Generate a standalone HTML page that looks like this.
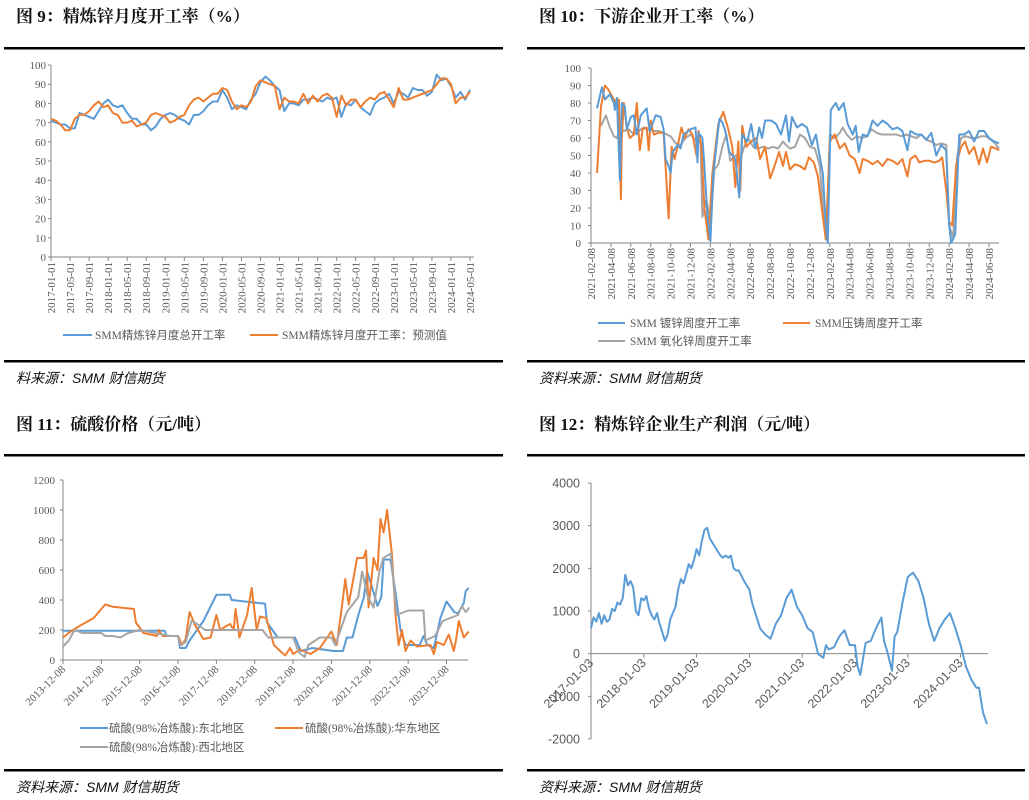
<!DOCTYPE html>
<html><head><meta charset="utf-8"><style>
body{margin:0;background:#fff;}
svg{display:block;font-family:"Liberation Serif","Noto Serif CJK SC",serif;}
.t{font-weight:bold;font-size:17px;fill:#111;}
.src{font-style:italic;font-size:14px;fill:#111;font-family:"Liberation Sans","Noto Sans CJK SC",sans-serif;}
.tk{font-size:11px;fill:#595959;}
.tk4{font-size:12.5px;fill:#595959;font-family:"Liberation Sans",sans-serif;}
.lg{font-size:11.5px;fill:#595959;font-family:"Liberation Serif","Noto Sans CJK SC",serif;}
</style></head><body>
<svg id="s" width="1029" height="800" viewBox="0 0 1029 800">
<g>
<text class="t" x="16" y="22">图 9：精炼锌月度开工率（%）</text>
<text class="t" x="539" y="22">图 10：下游企业开工率（%）</text>
<text class="t" x="16" y="430">图 11：硫酸价格（元/吨）</text>
<text class="t" x="539" y="430">图 12：精炼锌企业生产利润（元/吨）</text>
<rect x="4" y="47" width="499" height="2.5" fill="#000"/>
<rect x="527" y="47" width="498" height="2.5" fill="#000"/>
<rect x="4" y="360" width="499" height="2.5" fill="#000"/>
<rect x="527" y="360" width="498" height="2.5" fill="#000"/>
<rect x="4" y="454" width="499" height="2.5" fill="#000"/>
<rect x="527" y="454" width="498" height="2.5" fill="#000"/>
<rect x="4" y="769" width="499" height="2.5" fill="#000"/>
<rect x="527" y="769" width="498" height="2.5" fill="#000"/>
<text class="src" x="16" y="383">料来源：SMM  财信期货</text>
<text class="src" x="539" y="383">资料来源：SMM  财信期货</text>
<text class="src" x="16" y="792">资料来源：SMM  财信期货</text>
<text class="src" x="539" y="792">资料来源：SMM  财信期货</text>
</g>
</svg>
<script>
// ---------- Chart 1 data (monthly 2017-01..2024-05)
const c1Total = [71,70,69,69,67,67,75,74,73,72,76,80, 82,79,78,79,75,72,72,69,69,66,68,72, 74,75,74,72,71,69,74,74,76,79,81,81, 87,83,77,79,78,77,82,85,91,94,92,89, 87,76,80,80,79,82,82,83,82,81,83,82, 83,73,80,79,82,78,76,74,80,82,83,85, 80,86,85,83,88,87,87,84,86,95,92,93, 89,83,86,82,87];
const c1Forecast = [72,71,69,66,66,72,74,74,76,79,81,78, 79,75,74,70,70,71,68,69,70,74,75,74, 73,70,71,73,74,79,82,83,81,83,85,85, 88,87,81,77,79,78,81,89,92,91,90,89, 77,83,81,81,80,85,80,84,81,84,85,83, 73,84,79,82,82,78,81,83,82,85,86,82, 78,88,82,82,83,84,85,86,87,90,93,93, 90,80,83,83,86];
const c1XLabels = ["2017-01-01","2017-05-01","2017-09-01","2018-01-01","2018-05-01","2018-09-01","2019-01-01","2019-05-01","2019-09-01","2020-01-01","2020-05-01","2020-09-01","2021-01-01","2021-05-01","2021-09-01","2022-01-01","2022-05-01","2022-09-01","2023-01-01","2023-05-01","2023-09-01","2024-01-01","2024-05-01"];
const c1YTicks = [0,10,20,30,40,50,60,70,80,90,100];
// ---------- Chart 2 data (x = months since 2021-02-08)
const c2GalvX = [0.6,1.1,1.4,1.9,2.3,2.4,2.6,2.9,3.1,3.4,3.6,4.0,4.3,4.6,5.0,5.6,5.9,6.5,7.0,7.3,7.5,7.8,8.0,8.2,8.7,9.0,9.3,10,10.5,10.7,10.8,11.2,11.4,11.7,12,12.3,12.9,13.2,13.5,13.9,14.2,14.5,14.9,15.2,15.7,16.1,16.5,16.9,17.2,17.5,18.1,18.6,19.1,19.6,19.9,20.2,20.7,21.2,21.7,22.2,22.6,22.9,23.3,23.6,23.8,24.1,24.6,24.9,25.4,25.8,26.3,26.6,26.9,27.3,27.8,28.3,28.8,29.3,29.8,30.3,30.8,31.3,31.8,32.1,32.7,33.2,33.7,34.2,34.7,35.2,35.7,36.0,36.2,36.6,37.0,37.5,38.0,38.5,39.0,39.5,40.0,40.5,41.0];
const c2Galv = [77,89,82,85,80,76,83,36,80,78,65,72,73,62,73,77,64,73,72,65,48,44,40,52,56,54,62,65,66,46,63,60,44,15,1,40,71,69,64,52,50,48,26,62,58,68,54,66,60,70,70,68,62,73,58,72,66,68,66,56,62,52,40,10,0,76,80,76,80,68,62,67,52,62,61,70,67,70,68,65,66,64,53,64,62,62,59,63,50,56,53,10,0,5,62,62,64,58,64,64,60,58,57];
const c2DieX = [0.6,1.0,1.4,1.7,2.2,2.5,2.7,2.8,3.0,3.1,3.3,3.6,3.9,4.3,4.6,4.9,5.2,5.6,5.8,6.0,6.3,6.8,7.3,7.8,8.1,8.4,8.8,9.1,9.4,9.8,10.2,10.6,10.8,11.1,11.4,11.8,12.2,12.8,13.3,13.8,14.2,14.5,14.8,15.0,15.2,15.6,16.1,16.6,17.0,17.5,18.0,18.5,18.9,19.3,19.6,20.0,20.5,21.0,21.5,21.9,22.4,22.8,23.2,23.6,24.0,24.5,25.0,25.5,26.0,26.5,27.0,27.3,27.8,28.3,28.8,29.3,29.8,30.3,30.8,31.3,31.6,31.8,32.1,32.6,33.0,33.5,34.0,34.5,35.0,35.3,35.7,36.0,36.3,36.7,37.2,37.6,38.0,38.5,39.0,39.4,39.8,40.2,40.7,41.0];
const c2Die = [40,78,90,88,83,80,77,82,25,60,80,66,60,62,80,53,65,66,53,70,62,63,63,14,55,48,58,66,60,65,62,50,64,55,20,2,40,68,75,65,55,32,58,30,67,55,58,60,48,55,37,45,52,44,52,42,45,44,42,49,46,38,20,2,58,62,54,57,50,48,40,48,47,45,47,44,48,47,45,48,42,38,48,50,46,47,47,46,47,49,30,12,10,45,55,58,51,55,45,54,46,55,54,53];
const c2OxX = [1.0,1.5,1.9,2.3,2.6,2.9,3.3,3.8,4.3,4.8,5.3,5.8,6.3,6.8,7.3,8.0,8.5,9.0,9.5,10,10.6,11.0,11.2,11.6,12.0,12.4,12.8,13.2,13.6,14.0,14.5,15.0,15.4,15.8,16.3,16.8,17.3,17.8,18.3,18.8,19.3,19.6,20.0,20.5,21.0,21.5,22.0,22.5,23.0,23.4,23.7,24.0,24.5,25.0,25.3,25.7,26.2,26.7,27.2,27.7,28.2,28.7,29.2,29.7,30.2,30.7,31.2,31.7,32.2,32.7,33.2,33.7,34.2,34.7,35.2,35.7,36.0,36.4,36.8,37.2,37.7,38.2,38.7,39.2,39.7,40.2,40.6,41.0];
const c2Ox = [67,73,66,61,60,66,64,65,62,64,66,65,64,64,63,61,57,56,60,62,58,58,15,25,12,42,45,55,62,47,50,48,55,60,55,54,55,54,55,54,58,56,54,55,62,60,55,54,44,12,5,62,60,63,66,62,59,61,60,61,65,63,62,62,62,62,61,62,61,60,62,59,58,56,57,56,10,3,50,60,61,60,60,61,61,59,57,54];
const c2XLabels = ["2021-02-08","2021-04-08","2021-06-08","2021-08-08","2021-10-08","2021-12-08","2022-02-08","2022-04-08","2022-06-08","2022-08-08","2022-10-08","2022-12-08","2023-02-08","2023-04-08","2023-06-08","2023-08-08","2023-10-08","2023-12-08","2024-02-08","2024-04-08","2024-06-08"];
const c2YTicks = [0,10,20,30,40,50,60,70,80,90,100];
// ---------- Chart 3 data (x = years since 2013-12-08)
const c3NEX = [0,2.65,2.7,3.0,3.05,3.2,3.3,3.66,4.0,4.35,4.4,5.27,5.32,5.6,6.05,6.2,6.5,7.05,7.3,7.4,7.55,7.7,7.85,7.93,8.1,8.2,8.3,8.36,8.54,8.67,8.8,8.93,9.3,9.4,9.5,9.67,9.84,10.0,10.2,10.3,10.45,10.5,10.58];
const c3NE = [195,195,160,160,80,80,130,260,435,435,400,375,250,150,150,60,80,60,60,150,150,300,420,590,450,360,420,670,670,450,200,100,100,160,100,80,280,390,320,310,380,460,480];
const c3EastX = [0,0.2,0.45,0.8,1.0,1.1,1.3,1.85,1.9,2.1,2.45,2.5,2.6,3.0,3.1,3.2,3.3,3.45,3.66,3.85,4.0,4.1,4.28,4.36,4.45,4.5,4.6,4.8,4.92,5.05,5.14,5.3,5.5,5.66,5.8,5.92,6.0,6.18,6.45,6.7,7.0,7.14,7.27,7.36,7.45,7.67,7.84,7.9,7.97,8.1,8.2,8.28,8.36,8.45,8.58,8.67,8.75,8.84,8.93,9.06,9.23,9.58,9.67,9.75,9.93,10.06,10.19,10.24,10.32,10.45,10.58];
const c3East = [150,190,230,280,340,370,355,340,250,180,160,200,160,160,100,140,320,230,140,150,300,200,230,240,200,340,150,300,480,200,290,280,100,60,30,80,40,70,40,80,190,100,350,540,370,680,680,730,350,680,600,940,850,1000,700,300,100,200,60,130,90,100,40,120,100,170,60,120,260,150,190];
const c3NWX = [0,0.15,0.3,0.5,1.0,1.1,1.3,1.5,1.7,2.0,2.5,2.8,3.0,3.05,3.2,3.35,3.5,3.7,4.0,5.0,5.2,5.35,6.0,6.15,6.3,6.4,6.7,7.0,7.1,7.4,7.7,7.8,7.95,8.1,8.25,8.35,8.55,8.7,9.0,9.2,9.4,9.45,9.7,9.9,10.1,10.3,10.4,10.5,10.6];
const c3NW = [90,130,200,180,180,160,160,150,180,200,175,160,160,100,120,260,240,200,200,200,200,150,150,50,20,100,150,150,100,320,420,590,420,350,590,680,710,300,330,330,330,130,160,260,280,300,360,320,350];
const c3XLabels = ["2013-12-08","2014-12-08","2015-12-08","2016-12-08","2017-12-08","2018-12-08","2019-12-08","2020-12-08","2021-12-08","2022-12-08","2023-12-08"];
const c3YTicks = [0,200,400,600,800,1000,1200];
// ---------- Chart 4 data (x = years since 2017-01-03)
const c4X = [0,0.05,0.1,0.15,0.2,0.25,0.3,0.35,0.4,0.45,0.5,0.55,0.6,0.65,0.7,0.75,0.8,0.85,0.9,0.95,1.0,1.05,1.1,1.15,1.2,1.25,1.3,1.35,1.4,1.45,1.5,1.55,1.6,1.65,1.7,1.75,1.8,1.85,1.9,1.95,2.0,2.05,2.1,2.15,2.2,2.25,2.3,2.35,2.4,2.45,2.5,2.55,2.6,2.65,2.7,2.75,2.8,2.9,3.0,3.05,3.1,3.2,3.3,3.4,3.5,3.6,3.7,3.8,3.9,4.0,4.1,4.2,4.3,4.4,4.45,4.5,4.6,4.7,4.8,4.9,5.0,5.05,5.1,5.2,5.3,5.4,5.5,5.55,5.6,5.7,5.75,5.8,5.9,6.0,6.1,6.2,6.3,6.4,6.5,6.6,6.7,6.8,6.9,7.0,7.1,7.2,7.3,7.35,7.4,7.43,7.5];
const c4Profit = [600,850,750,950,700,900,750,800,1050,1000,1200,1150,1300,1850,1600,1700,1550,1000,900,1300,1250,1350,1050,900,800,950,700,500,300,450,800,950,1100,1500,1750,1650,1850,2100,2000,2200,2450,2300,2650,2900,2950,2700,2600,2500,2400,2300,2250,2300,2250,2300,2000,1950,1950,1700,1500,1200,1000,600,450,350,700,900,1300,1500,1100,900,600,500,0,-100,200,100,150,400,550,200,200,-300,-500,250,300,600,850,300,100,-400,400,500,1200,1800,1900,1700,1300,700,300,600,800,950,600,200,-300,-600,-800,-800,-1200,-1400,-1650];
const c4XLabels = ["2017-01-03","2018-01-03","2019-01-03","2020-01-03","2021-01-03","2022-01-03","2023-01-03","2024-01-03"];
const c4YTicks = [-2000,-1000,0,1000,2000,3000,4000];

const NS = "http://www.w3.org/2000/svg";
const svg = document.getElementById('s');
function mk(tag, attrs, parent){const e=document.createElementNS(NS,tag);for(const k in attrs)e.setAttribute(k,attrs[k]);(parent||svg).appendChild(e);return e;}
function lin(d0,d1,r0,r1){return v=>r0+(v-d0)/(d1-d0)*(r1-r0);}
function series(g,xs,ys,sx,sy,color){
  return mk('path',{d:xs.map((x,i)=>(i?'L':'M')+sx(x).toFixed(1)+','+sy(ys[i]).toFixed(1)).join(''),fill:'none',stroke:color,'stroke-width':2,'stroke-linejoin':'round'},g);
}
const BLUE='#5B9BD5', ORANGE='#ED7D31', GRAY='#A5A5A5', AX='#868686';

// ---- Chart 1
(function(){
  const g=mk('g',{});
  
  
  const sx=lin(0,88,51,470), sy=lin(0,100,257,65);
  mk('line',{x1:51,y1:65,x2:51,y2:257,stroke:AX},g);
  mk('line',{x1:51,y1:257,x2:474,y2:257,stroke:AX},g);
  c1YTicks.forEach(v=>{const t=mk('text',{x:46,y:sy(v)+4,'text-anchor':'end',class:'tk'},g);t.textContent=v;
    
    
    mk('line',{x1:48,x2:51,y1:sy(v),y2:sy(v),stroke:AX},g);});
  c1XLabels.forEach((l,i)=>{const x=sx(i*4);mk('line',{x1:x,x2:x,y1:257,y2:261,stroke:AX},g);
    const t=mk('text',{x:x+4,y:262,'text-anchor':'end',class:'tk',transform:`rotate(-90 ${x+4} 262)`},g);t.textContent=l;
    
    });
  const a=series(g,c1Total.map((_,i)=>i),c1Total,sx,sy,BLUE);
  
  
  const b=series(g,c1Forecast.map((_,i)=>i),c1Forecast,sx,sy,ORANGE);
  
  
  mk('line',{x1:63,x2:92,y1:335,y2:335,stroke:BLUE,'stroke-width':2},g);
  let t=mk('text',{x:95,y:339,class:'lg'},g);t.textContent='SMM精炼锌月度总开工率';
  
  
  mk('line',{x1:250,x2:278,y1:335,y2:335,stroke:ORANGE,'stroke-width':2},g);
  t=mk('text',{x:282,y:339,class:'lg'},g);t.textContent='SMM精炼锌月度开工率：预测值';
  
  
})();

// ---- Chart 2
(function(){
  const g=mk('g',{});
  
  
  const sx=lin(0,40,591,989), sy=lin(0,100,243,68);
  mk('line',{x1:591,y1:68,x2:591,y2:243,stroke:AX},g);
  mk('line',{x1:591,y1:243,x2:999,y2:243,stroke:AX},g);
  c2YTicks.forEach(v=>{const t=mk('text',{x:581,y:sy(v)+4,'text-anchor':'end',class:'tk'},g);t.textContent=v;
    
    
    mk('line',{x1:588,x2:591,y1:sy(v),y2:sy(v),stroke:AX},g);});
  c2XLabels.forEach((l,i)=>{const x=sx(i*2);mk('line',{x1:x,x2:x,y1:243,y2:247,stroke:AX},g);
    const t=mk('text',{x:x+4,y:248,'text-anchor':'end',class:'tk',transform:`rotate(-90 ${x+4} 248)`},g);t.textContent=l;
    
    });
  const c=series(g,c2OxX,c2Ox,sx,sy,GRAY);
  
  
  const b=series(g,c2DieX,c2Die,sx,sy,ORANGE);
  
  
  const a=series(g,c2GalvX,c2Galv,sx,sy,BLUE);
  
  
  mk('line',{x1:598,x2:625,y1:323,y2:323,stroke:BLUE,'stroke-width':2},g);
  let t=mk('text',{x:630,y:327,class:'lg'},g);t.textContent='SMM 镀锌周度开工率';
  
  
  mk('line',{x1:783,x2:810,y1:323,y2:323,stroke:ORANGE,'stroke-width':2},g);
  t=mk('text',{x:815,y:327,class:'lg'},g);t.textContent='SMM压铸周度开工率';
  
  
  mk('line',{x1:598,x2:625,y1:341,y2:341,stroke:GRAY,'stroke-width':2},g);
  t=mk('text',{x:630,y:345,class:'lg'},g);t.textContent='SMM 氧化锌周度开工率';
  
  
})();

// ---- Chart 3
(function(){
  const g=mk('g',{});
  
  
  const sx=lin(0,10,63,446.5), sy=lin(0,1200,660,480);
  mk('line',{x1:63,y1:480,x2:63,y2:660,stroke:AX},g);
  mk('line',{x1:63,y1:660,x2:468,y2:660,stroke:AX},g);
  c3YTicks.forEach(v=>{const t=mk('text',{x:55,y:sy(v)+4,'text-anchor':'end',class:'tk'},g);t.textContent=v;
    
    
    mk('line',{x1:60,x2:63,y1:sy(v),y2:sy(v),stroke:AX},g);});
  c3XLabels.forEach((l,i)=>{const x=sx(i);mk('line',{x1:x,x2:x,y1:660,y2:664,stroke:AX},g);
    const t=mk('text',{x:x+3,y:670,'text-anchor':'end',class:'tk',transform:`rotate(-45 ${x+3} 670)`},g);t.textContent=l;
    
    });
  const a=series(g,c3NEX,c3NE,sx,sy,BLUE);
  
  
  const b=series(g,c3EastX,c3East,sx,sy,ORANGE);
  
  
  const c=series(g,c3NWX,c3NW,sx,sy,GRAY);
  
  
  mk('line',{x1:80,x2:108,y1:728,y2:728,stroke:BLUE,'stroke-width':2},g);
  let t=mk('text',{x:109,y:732,class:'lg'},g);t.textContent='硫酸(98%冶炼酸):东北地区';
  
  
  mk('line',{x1:275,x2:303,y1:728,y2:728,stroke:ORANGE,'stroke-width':2},g);
  t=mk('text',{x:305,y:732,class:'lg'},g);t.textContent='硫酸(98%冶炼酸):华东地区';
  
  
  mk('line',{x1:80,x2:108,y1:747,y2:747,stroke:GRAY,'stroke-width':2},g);
  t=mk('text',{x:109,y:751,class:'lg'},g);t.textContent='硫酸(98%冶炼酸):西北地区';
  
  
})();

// ---- Chart 4
(function(){
  const g=mk('g',{});
  
  
  const sx=lin(0,1,591,643.8), sy=lin(-2000,4000,739,483);
  mk('line',{x1:591,y1:483,x2:591,y2:739,stroke:AX},g);
  mk('line',{x1:591,y1:sy(0),x2:988,y2:sy(0),stroke:AX},g);
  c4YTicks.forEach(v=>{const t=mk('text',{x:580,y:sy(v)+4.5,'text-anchor':'end',class:'tk4'},g);t.textContent=v;
    
    
    mk('line',{x1:588,x2:591,y1:sy(v),y2:sy(v),stroke:AX},g);});
  c4XLabels.forEach((l,i)=>{const x=sx(i);mk('line',{x1:x,x2:x,y1:sy(0),y2:sy(0)+4,stroke:AX},g);
    const t=mk('text',{x:x+3,y:sy(0)+10,'text-anchor':'end',class:'tk4',transform:`rotate(-45 ${x+3} ${sy(0)+10})`},g);t.textContent=l;
    
    });
  const a=series(g,c4X,c4Profit,sx,sy,BLUE);
  
  
})();
</script>
</body></html>
